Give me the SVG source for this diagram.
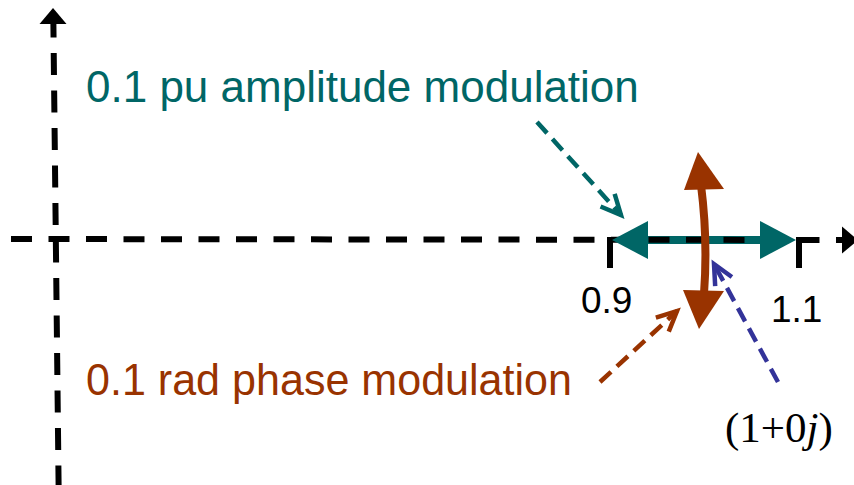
<svg xmlns="http://www.w3.org/2000/svg" width="854" height="485" viewBox="0 0 854 485">
<style>
.axis{stroke:#000;stroke-width:6;fill:none;stroke-dasharray:22 15.5}
.lbl{font-family:"Liberation Sans",Arial,sans-serif}
.conn{fill:none;stroke-width:4.5;stroke-dasharray:15 8}
</style>
<defs>
<marker id="chevT" markerUnits="userSpaceOnUse" viewBox="-24 -12 28 24" refX="0" refY="0" markerWidth="28" markerHeight="24" orient="auto" overflow="visible">
<path d="M-20,-9.5 L0,0 L-20,9.5" fill="none" stroke="#006666" stroke-width="4.5"/>
</marker>
<marker id="chevB" markerUnits="userSpaceOnUse" viewBox="-24 -12 28 24" refX="0" refY="0" markerWidth="28" markerHeight="24" orient="auto" overflow="visible">
<path d="M-20,-9.5 L0,0 L-20,9.5" fill="none" stroke="#993300" stroke-width="4.5"/>
</marker>
<marker id="chevN" markerUnits="userSpaceOnUse" viewBox="-24 -12 28 24" refX="0" refY="0" markerWidth="28" markerHeight="24" orient="auto" overflow="visible">
<path d="M-20,-9.5 L0,0 L-20,9.5" fill="none" stroke="#333399" stroke-width="4.5"/>
</marker>
</defs>
<rect width="854" height="485" fill="#fff"/>

<g id="amplitude-shaft">
<line x1="640" y1="240" x2="770" y2="240" stroke="#006666" stroke-width="8"/>
</g>

<g id="axes">
<line class="axis" x1="53.3" y1="15.5" x2="58.6" y2="485"/>
<polygon points="53,8 39.5,24 66.5,24" fill="#000"/>
<line class="axis" x1="11" y1="239" x2="846" y2="240" style="stroke-dasharray:21 16.5"/>
<polygon points="858,240 842,226.5 842,253.5" fill="#000"/>
<line x1="610" y1="237" x2="610" y2="268" stroke="#000" stroke-width="6"/>
<line x1="799" y1="237" x2="799" y2="268" stroke="#000" stroke-width="6"/>
</g>

<g id="amplitude-arrow">
<polygon points="612,240 648,221 648,259" fill="#006666"/>
<polygon points="796,240 760,221 760,259" fill="#006666"/>
</g>

<g id="phase-arrow">
<path d="M701,185 Q708,240 704,294" fill="none" stroke="#993300" stroke-width="8"/>
<polygon points="698,152 684,190 724,189" fill="#993300"/>
<polygon points="699,329 683,290 724,291" fill="#993300"/>
</g>

<g id="connectors">
<line class="conn" x1="537" y1="122" x2="621" y2="215" stroke="#006666" marker-end="url(#chevT)"/>
<line class="conn" x1="600" y1="382" x2="677" y2="311" stroke="#993300" marker-end="url(#chevB)"/>
<line class="conn" x1="778" y1="382" x2="714" y2="264" stroke="#333399" marker-end="url(#chevN)"/>
</g>

<g id="label-amplitude">
<text class="lbl" x="86" y="102" font-size="44" fill="#006666">0.1 pu amplitude modulation</text>
</g>
<g id="label-phase">
<text class="lbl" x="86" y="395" font-size="44" fill="#993300" textLength="486" lengthAdjust="spacingAndGlyphs">0.1 rad phase modulation</text>
</g>
<g id="label-09">
<text class="lbl" x="581" y="313" font-size="37" fill="#000">0.9</text>
</g>
<g id="label-11">
<text class="lbl" x="771" y="322" font-size="37" fill="#000">1.1</text>
</g>
<g id="label-origin">
<text x="725" y="442" font-size="43" fill="#000" font-family="'Liberation Serif','Times New Roman',serif">(1+0<tspan font-style="italic">j</tspan>)</text>
</g>
</svg>
